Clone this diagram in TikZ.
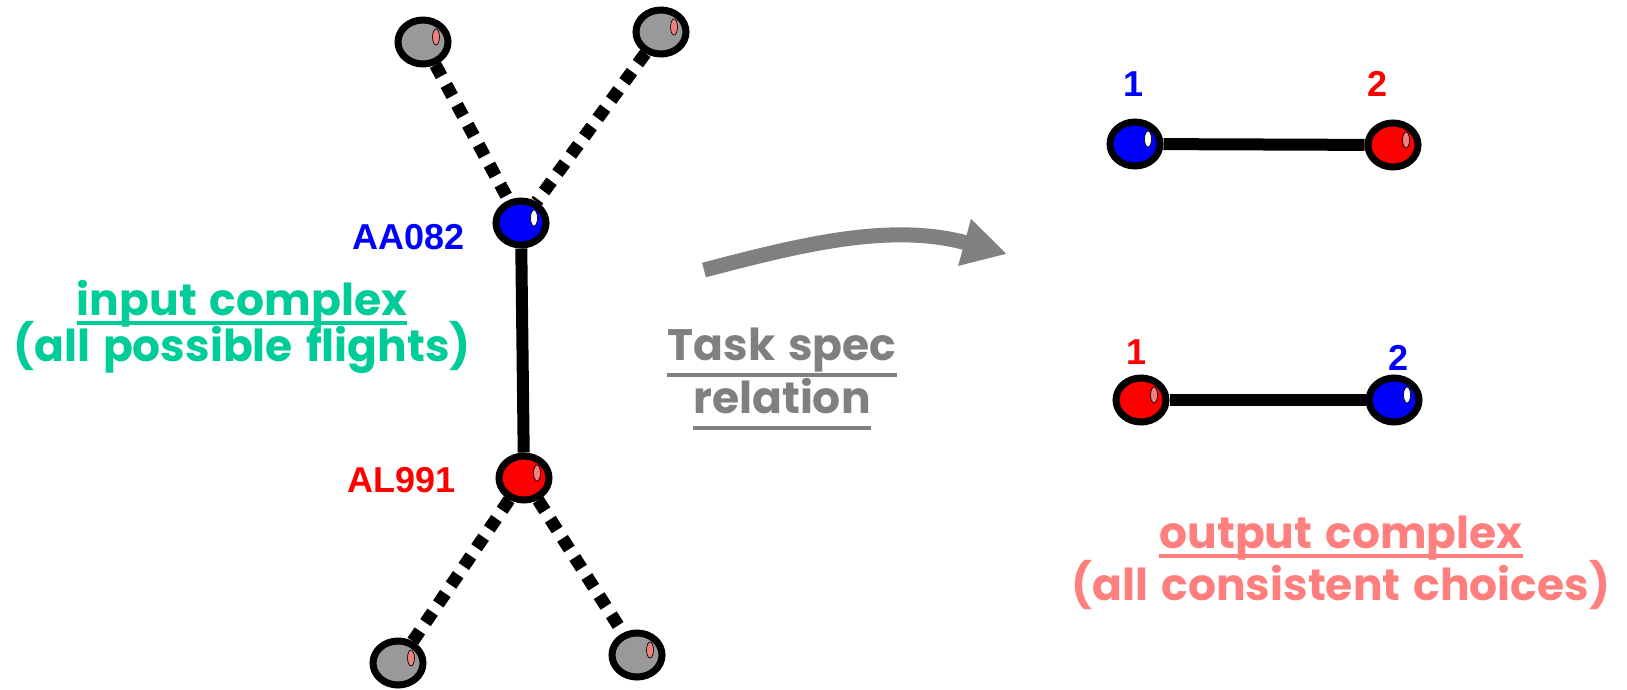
\documentclass[tikz,border=0pt]{standalone}
\usepackage{fontspec}
\setmainfont{Liberation Sans}
\newfontfamily\comic{Poppins}[WordSpace=1.4]
\usetikzlibrary{arrows.meta,shapes.geometric,backgrounds}
\definecolor{ingreen}{HTML}{00CC99}
\definecolor{outpink}{HTML}{FF7F7F}
\definecolor{taskgray}{HTML}{808080}
\definecolor{nodegray}{HTML}{999999}
\definecolor{hlpink}{HTML}{F08080}
\tikzset{
  vert/.style={ellipse, draw=black, line width=5.25pt, minimum width=37.5pt,
    minimum height=33pt, inner sep=0pt,
    path picture={\draw[line width=0.5pt, fill=#1]
      ([xshift=9.75pt,yshift=3.75pt]path picture bounding box.center)
      ellipse [x radius=2.6pt, y radius=6pt];}},
  grayv/.style={vert=hlpink, fill=nodegray},
  bluev/.style={vert=white, fill=blue},
  redv/.style={vert=hlpink, fill=red},
  solidedge/.style={line width=9pt},
  dotedge/.style={line width=9.5pt, dash pattern=on 9.5pt off 7.5pt},
  flabel/.style={font=\bfseries\fontsize{27}{30}\selectfont, inner sep=0pt},
  ctext/.style={font=\comic\bfseries\fontsize{33}{36}\selectfont, inner sep=0pt, anchor=base},
  uline/.style={line width=3pt}
}
\begin{document}
\begin{tikzpicture}[x=0.75pt,y=-0.75pt]
\useasboundingbox (0,0) rectangle (1627,689);
% input complex vertices
\node[grayv] (g1) at (423,42) {};
\node[grayv] (g2) at (661,32) {};
\node[bluev] (aa) at (521,223) {};
\node[redv]  (al) at (524,478) {};
\node[grayv] (g3) at (398,663) {};
\node[grayv] (g4) at (637,655) {};
\begin{scope}[on background layer]
  \draw[dotedge] (g1) -- (aa);
  \draw[dotedge] (g2) -- (aa);
  \draw[solidedge] (aa) -- (al);
  \draw[dotedge] (al) -- (g3);
  \draw[dotedge] (al) -- (g4);
\end{scope}
\node[flabel, text=blue] (laa) at (409,237) {AA082};
\node[flabel, text=red]  (lal) at (402,480) {AL991};
% output complex vertices
\node[bluev] (o1) at (1135,144) {};
\node[redv]  (o2) at (1393,145) {};
\node[redv]  (o3) at (1141,400) {};
\node[bluev] (o4) at (1394,400) {};
\begin{scope}[on background layer]
  \draw[solidedge] (o1) -- (o2);
  \draw[solidedge] (o3) -- (o4);
\end{scope}
\node[flabel, text=blue] (n1) at (1133,84) {1};
\node[flabel, text=red]  (n2) at (1377,84) {2};
\node[flabel, text=red]  (n3) at (1136,352) {1};
\node[flabel, text=blue] (n4) at (1398,358) {2};
% arrow
\coordinate (as) at (704,270);
\coordinate (ae) at (1007,254);
\draw[taskgray, line width=11.25pt, -{Triangle[length=33pt,width=34pt]}]
  (as) .. controls (800,245) and (890,222) .. (ae);
% texts
\node[ctext, text=ingreen] (in1) at (242,315) {input complex};
\draw[uline, ingreen] ([yshift=-6pt]in1.base west) -- ([yshift=-6pt]in1.base east);
\node[ctext, text=ingreen] (in2) at (242,361) {(all possible flights)};
\node[ctext, text=taskgray] (t1) at (782,360) {Task spec};
\draw[uline, taskgray] ([yshift=-11pt]t1.base west) -- ([yshift=-11pt]t1.base east);
\node[ctext, text=taskgray] (t2) at (782,413) {relation};
\draw[uline, taskgray] ([yshift=-11pt]t2.base west) -- ([yshift=-11pt]t2.base east);
\node[ctext, text=outpink] (out1) at (1341,548) {output complex};
\draw[uline, outpink] ([yshift=-6pt]out1.base west) -- ([yshift=-6pt]out1.base east);
\node[ctext, text=outpink] (out2) at (1341,600) {(all consistent choices)};
\end{tikzpicture}
\end{document}
